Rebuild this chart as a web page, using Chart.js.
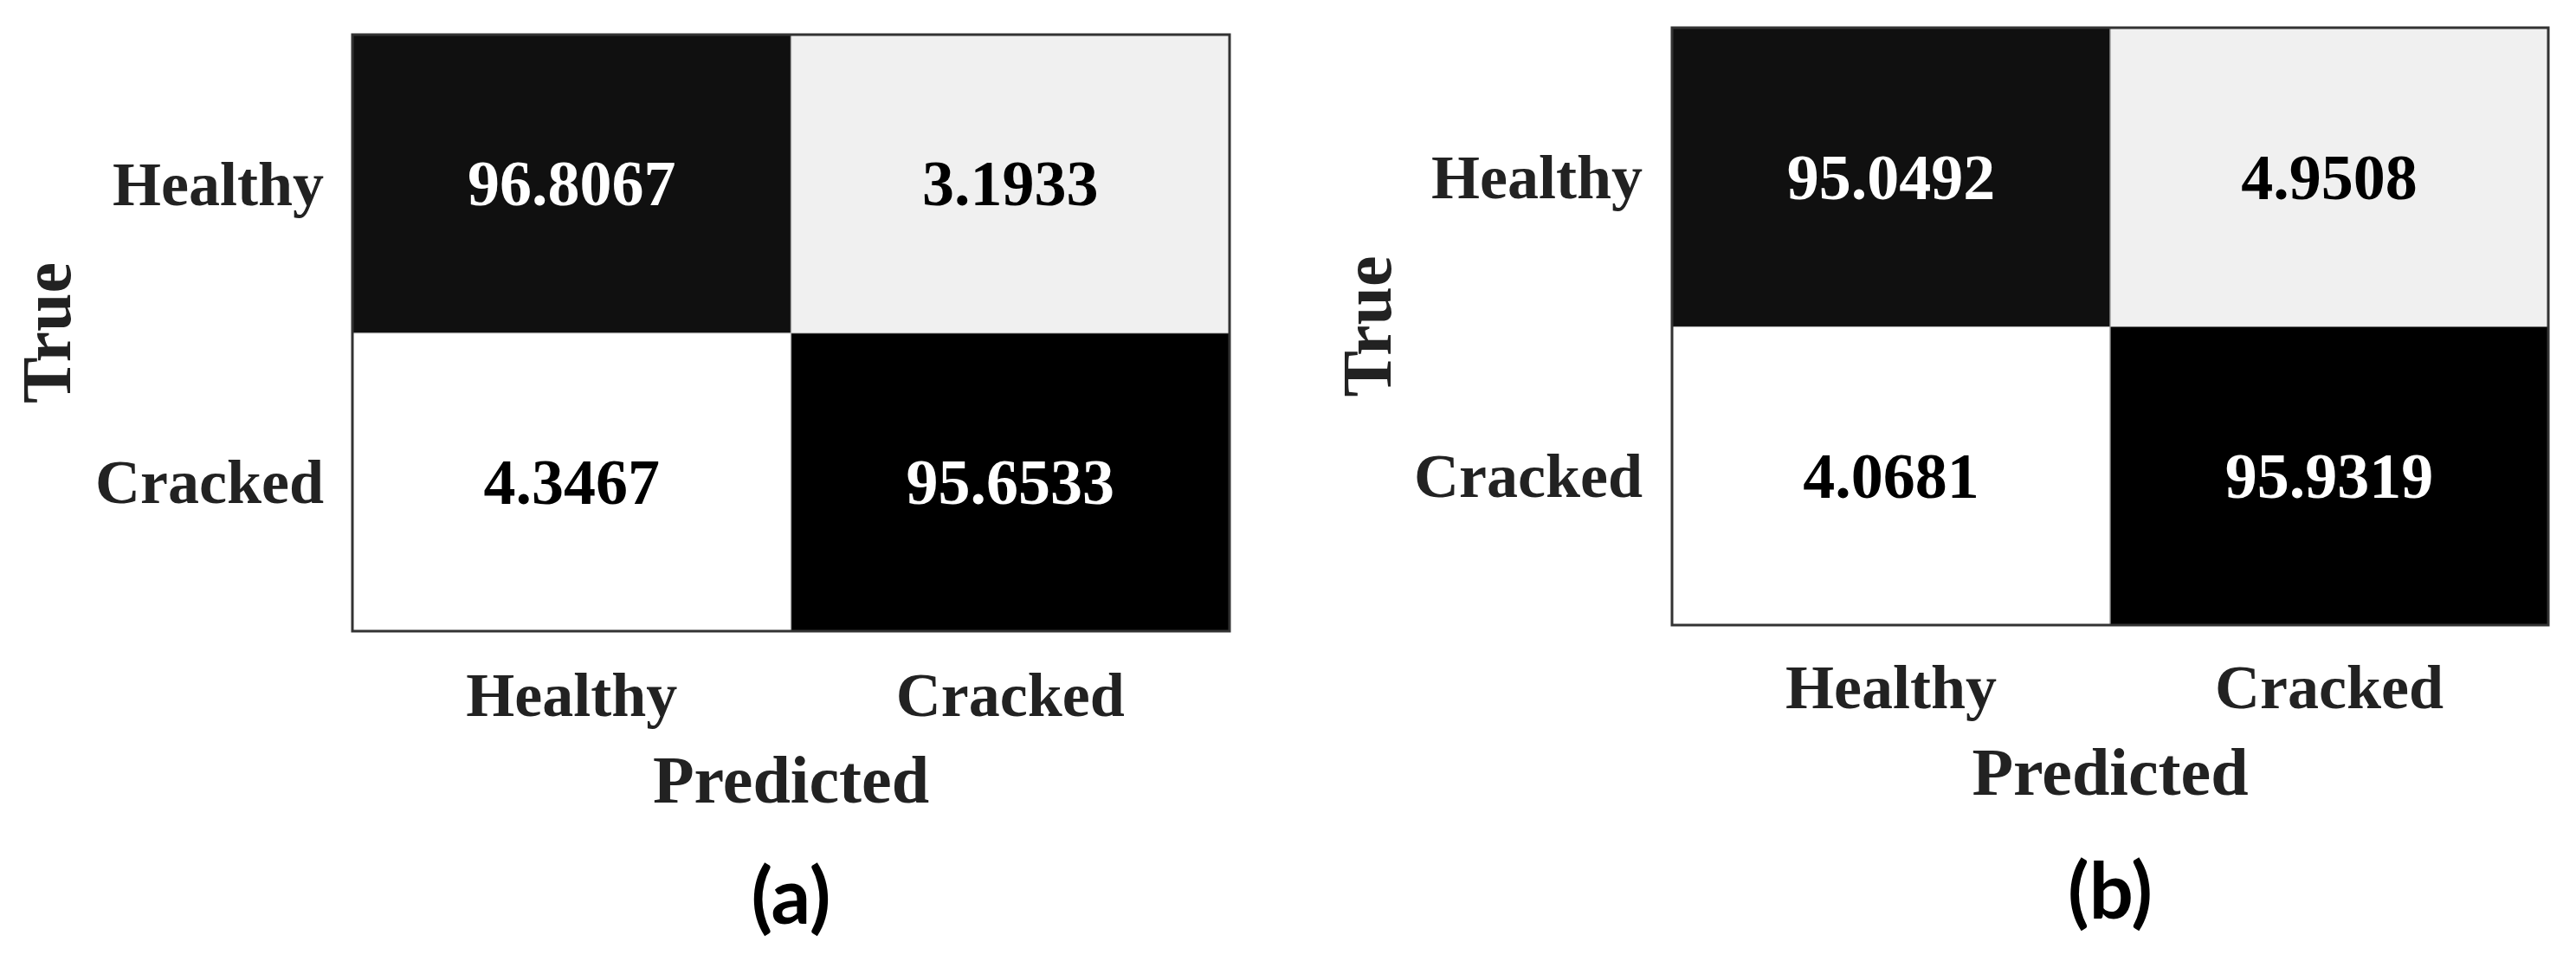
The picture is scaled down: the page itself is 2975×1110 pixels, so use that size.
<!DOCTYPE html>
<html>
<head>
<meta charset="utf-8">
<script src="https://cdn.jsdelivr.net/npm/chart.js@4.4.0/dist/chart.umd.min.js"></script>
<style>
  body { margin: 0; background: #fff; }
  #wrap { position: relative; width: 2975px; height: 1110px; }
  canvas { position: absolute; top: 0; }
  #cmA { left: 0; }
  #cmB { left: 1487px; }
</style>
</head>
<body>
<div id="wrap">
  <canvas id="cmA" width="1487" height="1110"></canvas>
  <canvas id="cmB" width="1488" height="1110"></canvas>
</div>
<script>
// klasser (predicted = kolonner, true = rader, ovenfra og ned)
const categories = ["Healthy", "Cracked"];
const rowOrder = ["Healthy", "Cracked"];

// (a)
const healthyRowA = [96.8067, 3.1933];
const crackedRowA = [4.3467, 95.6533];

// (b)
const healthyRowB = [95.0492, 4.9508];
const crackedRowB = [4.0681, 95.9319];

const panelLabels = ["(a)", "(b)"];

// cellefarger
const healthyRowColors = ["#101010", "#f0f0f0"];
const crackedRowColors = ["#ffffff", "#000000"];

const serif = "'Liberation Serif', 'Times New Roman', serif";

function tekstFarge(bg) {
  const v = parseInt(bg.slice(1, 3), 16);
  return v < 128 ? "#ffffff" : "#000000";
}

// tall i hver celle + ramme rundt
const cellText = {
  id: "cellText",
  afterDatasetsDraw(chart) {
    const ctx = chart.ctx;
    ctx.save();
    ctx.font = "bold 74px " + serif;
    ctx.textAlign = "center";
    ctx.textBaseline = "middle";
    chart.data.datasets.forEach((ds, i) => {
      chart.getDatasetMeta(i).data.forEach((bar, j) => {
        ctx.fillStyle = tekstFarge(ds.backgroundColor[j]);
        ctx.fillText(ds.values[j].toFixed(4), bar.x, (bar.y + bar.base) / 2 + 6);
      });
    });
    const a = chart.chartArea;
    ctx.strokeStyle = "#333333";
    ctx.lineWidth = 3;
    ctx.strokeRect(a.left, a.top, a.right - a.left, a.bottom - a.top);
    ctx.restore();
  }
};

function lagMatrise(id, healthyRow, crackedRow, label, o) {
  return new Chart(id, {
    type: "bar",
    data: {
      labels: categories,
      datasets: [
        {
          label: "Cracked",
          values: crackedRow,
          data: crackedRow.map(() => 1),
          backgroundColor: crackedRowColors,
          borderColor: "#999999",
          borderWidth: 1,
          barPercentage: 1,
          categoryPercentage: 1
        },
        {
          label: "Healthy",
          values: healthyRow,
          data: healthyRow.map(() => 1),
          backgroundColor: healthyRowColors,
          borderColor: "#999999",
          borderWidth: 1,
          barPercentage: 1,
          categoryPercentage: 1
        }
      ]
    },
    options: {
      responsive: false,
      animation: false,
      devicePixelRatio: 1,
      layout: { padding: { top: o.top, right: o.right, left: 0, bottom: 0 } },
      plugins: {
        legend: { display: false },
        tooltip: { enabled: false },
        title: {
          display: true,
          text: label,
          position: "bottom",
          fullSize: false,
          color: "#000000",
          font: { family: "Lato", size: 90, weight: "bold", lineHeight: 1.2 },
          padding: { top: 0, bottom: o.labelPad }
        }
      },
      scales: {
        x: {
          stacked: true,
          grid: { display: false, drawTicks: false },
          border: { display: false },
          ticks: {
            color: "#222222",
            font: { family: serif, size: 72, weight: "bold", lineHeight: 1.2 },
            padding: o.tickPadX
          },
          title: {
            display: true,
            text: "Predicted",
            color: "#222222",
            font: { family: serif, size: 78, weight: "bold", lineHeight: 1.2 },
            padding: { top: 0, bottom: o.titlePadX }
          },
          afterFit: s => { s.height = o.xHeight; }
        },
        y: {
          stacked: true,
          min: 0,
          max: 2,
          grid: { display: false, drawTicks: false },
          border: { display: false },
          afterBuildTicks: s => { s.ticks = [{ value: 0.5 }, { value: 1.5 }]; },
          ticks: {
            color: "#222222",
            font: { family: serif, size: 72, weight: "bold", lineHeight: 1.2 },
            padding: o.tickPadY,
            labelOffset: 6,
            callback: v => rowOrder[Math.round(1.5 - v)]
          },
          title: {
            display: true,
            text: "True",
            color: "#222222",
            font: { family: serif, size: 80, weight: "bold", lineHeight: 1.2 },
            padding: { top: o.titlePadY, bottom: 0 }
          },
          afterFit: s => {
            s.width = o.yWidth;
            s.paddingTop = 0;
            s.paddingBottom = 0;
          }
        }
      }
    },
    plugins: [cellText]
  });
}

lagMatrise("cmA", healthyRowA, crackedRowA, panelLabels[0], {
  top: 40, right: 67, yWidth: 407, xHeight: 255,
  tickPadX: 36, tickPadY: 33, titlePadX: 30, titlePadY: 12, labelPad: 18
});

lagMatrise("cmB", healthyRowB, crackedRowB, panelLabels[1], {
  top: 32, right: 32, yWidth: 444, xHeight: 256,
  tickPadX: 34, tickPadY: 34, titlePadX: 33, titlePadY: 50, labelPad: 24
});
</script>
</body>
</html>
